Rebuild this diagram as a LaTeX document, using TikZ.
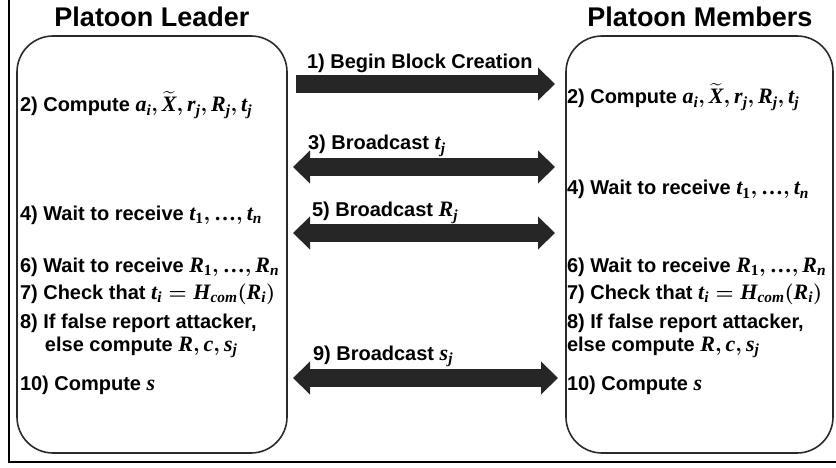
\documentclass[tikz,border=0pt]{standalone}
\usepackage{amsmath}
\usepackage{fontspec}
\setmainfont{Liberation Sans}
\newfontfamily\mlet{Liberation Serif}[Scale=1.1]
\newcommand\mv[1]{\text{\mlet\bfseries\itshape #1}}
\newcommand\mn[1]{\text{\mlet\bfseries\upshape #1}}
\newcommand\myell{\mn{\char"2026}}
\usetikzlibrary{arrows.meta}
\definecolor{boxgray}{HTML}{2A2A2A}
\definecolor{arrgray}{HTML}{262626}
\begin{document}
\begin{tikzpicture}[x=1pt,y=-1pt,
 every node/.style={inner sep=0pt, outer sep=0pt},
 txt/.style={anchor=base west, font=\fontsize{20}{22}\selectfont\bfseries\boldmath},
 ttl/.style={font=\fontsize{27}{30}\selectfont\bfseries},
 box/.style={draw=boxgray, line width=1.6pt, rounded corners=36pt},
 fat/.style={draw=arrgray, line width=18pt, -{Triangle[length=17pt,width=32pt]}},
 fatboth/.style={draw=arrgray, line width=18pt, {Triangle[length=17pt,width=32pt]}-{Triangle[length=17pt,width=32pt]}},
]
\useasboundingbox (0,0) rectangle (836,468);
% outer frame
\draw[line width=2.5pt] (9,-5) -- (9,462) -- (840,462);
% boxes
\node[box, minimum width=270pt, minimum height=417pt] (L) at (152,244.5) {};
\node[box, minimum width=267pt, minimum height=417pt] (M) at (699.5,244.5) {};
% titles
\node[ttl] (tL) at (152,17) {Platoon Leader};
\node[ttl] (tM) at (700,17) {Platoon Members};
% leader steps
\node[txt] (l2) at (20,112) {2) Compute $\mv{a}_{\mv{i}},\widetilde{\mv{X}},\mv{r}_{\mv{j}},\mv{R}_{\mv{j}},\mv{t}_{\mv{j}}$};
\node[txt] (l4) at (20,220) {4) Wait to receive $\mv{t}_{\mn{1}},\myell,\mv{t}_{\mv{n}}$};
\node[txt] (l6) at (20,272) {6) Wait to receive $\mv{R}_{\mn{1}},\myell,\mv{R}_{\mv{n}}$};
\node[txt] (l7) at (20,299) {7) Check that $\mv{t}_{\mv{i}}=\mv{H}_{\mv{com}}(\mv{R}_{\mv{i}})$};
\node[txt] (l8) at (20,328) {8) If false report attacker,};
\node[txt] (l8b) at (45,351) {else compute $\mv{R},\mv{c},\mv{s}_{\mv{j}}$};
\node[txt] (l10) at (20,390) {10) Compute $\mv{s}$};
% member steps
\node[txt] (m2) at (567,104) {2) Compute $\mv{a}_{\mv{i}},\widetilde{\mv{X}},\mv{r}_{\mv{j}},\mv{R}_{\mv{j}},\mv{t}_{\mv{j}}$};
\node[txt] (m4) at (567,195) {4) Wait to receive $\mv{t}_{\mn{1}},\myell,\mv{t}_{\mv{n}}$};
\node[txt] (m6) at (567,272) {6) Wait to receive $\mv{R}_{\mn{1}},\myell,\mv{R}_{\mv{n}}$};
\node[txt] (m7) at (567,299) {7) Check that $\mv{t}_{\mv{i}}=\mv{H}_{\mv{com}}(\mv{R}_{\mv{i}})$};
\node[txt] (m8) at (567,328) {8) If false report attacker,};
\node[txt] (m8b) at (567,351) {else compute $\mv{R},\mv{c},\mv{s}_{\mv{j}}$};
\node[txt] (m10) at (567,390) {10) Compute $\mv{s}$};
% arrow end points
\coordinate (a1s) at (296,84);  \coordinate (a1e) at (555,84);
\coordinate (a3s) at (293,167); \coordinate (a3e) at (555,167);
\coordinate (a5s) at (293,233); \coordinate (a5e) at (555,233);
\coordinate (a9s) at (293,378); \coordinate (a9e) at (558,378);
\draw[fat] (a1s) -- (a1e);
\draw[fatboth] (a3s) -- (a3e);
\draw[fatboth] (a5s) -- (a5e);
\draw[fatboth] (a9s) -- (a9e);
% arrow labels
\node[txt] (b1) at (307,69) {1) Begin Block Creation};
\node[txt] (b3) at (308,150) {3) Broadcast $\mv{t}_{\mv{j}}$};
\node[txt] (b5) at (312,217) {5) Broadcast $\mv{R}_{\mv{j}}$};
\node[txt] (b9) at (313,360) {9) Broadcast $\mv{s}_{\mv{j}}$};
\end{tikzpicture}
\end{document}
